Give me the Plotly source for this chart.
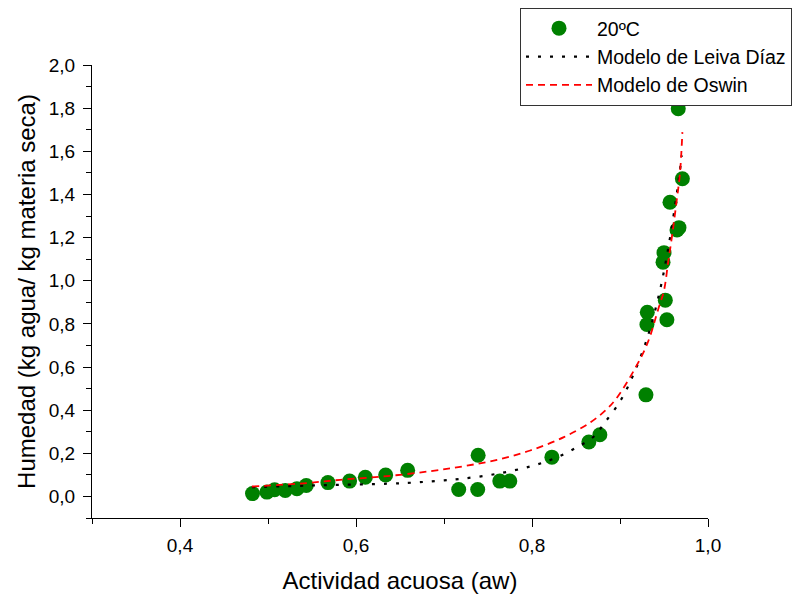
import plotly.graph_objects as go

# Experimental data (20 ºC)
aw_exp = [0.4824, 0.4988, 0.5075, 0.5196, 0.5329, 0.5435, 0.5681, 0.5927, 0.6106,
          0.6337, 0.6587, 0.7167, 0.7383, 0.7388, 0.7634, 0.7748, 0.8226, 0.8646,
          0.8771, 0.9295, 0.9306, 0.9310, 0.9489, 0.9500, 0.9515, 0.9533, 0.9568,
          0.9648, 0.9670, 0.9709, 0.9662]
hum_exp = [0.013, 0.020, 0.031, 0.028, 0.036, 0.051, 0.064, 0.071, 0.089,
           0.099, 0.121, 0.032, 0.032, 0.191, 0.071, 0.071, 0.182, 0.252,
           0.286, 0.471, 0.797, 0.854, 1.086, 1.130, 0.910, 0.819, 1.364,
           1.235, 1.246, 1.473, 1.797]

# Modelo de Leiva Díaz
aw_leiva = [0.4817, 0.5442, 0.5821, 0.6353, 0.6650, 0.6930, 0.7224, 0.7604, 0.7980,
            0.8248, 0.8514, 0.8703, 0.8817, 0.9007, 0.9140, 0.9254, 0.9348, 0.9454,
            0.9519, 0.9576, 0.9640, 0.9681, 0.9701]
hum_leiva = [0.043, 0.050, 0.054, 0.059, 0.064, 0.072, 0.083, 0.105, 0.139,
             0.175, 0.229, 0.278, 0.337, 0.445, 0.553, 0.669, 0.785, 0.955,
             1.086, 1.218, 1.388, 1.511, 1.581]

# Modelo de Oswin
aw_oswin = [0.4817, 0.5442, 0.5821, 0.6353, 0.6845, 0.7224, 0.7603, 0.7980, 0.8362,
            0.8666, 0.8856, 0.8969, 0.9158, 0.9310, 0.9442, 0.9500, 0.9545, 0.9595,
            0.9644, 0.9681, 0.9709]
hum_oswin = [0.046, 0.062, 0.077, 0.094, 0.117, 0.140, 0.170, 0.213, 0.275,
             0.344, 0.407, 0.460, 0.584, 0.708, 0.878, 0.955, 1.079, 1.218,
             1.372, 1.496, 1.689]

FONT = "Liberation Sans, Arial, sans-serif"

fig = go.Figure()
fig.add_trace(go.Scatter(x=aw_exp, y=hum_exp, mode="markers", name="20ºC",
                         marker=dict(color="#008000", size=15, line=dict(width=0))))
fig.add_trace(go.Scatter(x=aw_leiva, y=hum_leiva, mode="lines", name="Modelo de Leiva Díaz",
                         line=dict(color="black", width=2.2, dash="3px,9px", shape="spline")))
fig.add_trace(go.Scatter(x=aw_oswin, y=hum_oswin, mode="lines", name="Modelo de Oswin",
                         line=dict(color="#ff0000", width=1.8, dash="7px,5px", shape="spline")))

fig.update_layout(
    width=811, height=597,
    margin=dict(l=92, r=103, t=65, b=79, autoexpand=False),
    paper_bgcolor="white", plot_bgcolor="white",
    separators=",.",
    font=dict(family=FONT, color="black", size=19),
    legend=dict(x=(520 - 92) / 616, y=(518 - 8) / 453, xanchor="left", yanchor="top",
                bordercolor="#333333", borderwidth=1, bgcolor="white",
                font=dict(family=FONT, size=19.5, color="black"),
                itemwidth=66, tracegroupgap=0),
    showlegend=True,
)

fig.update_xaxes(
    range=[0.3, 1.0], showgrid=False, zeroline=False,
    showline=True, linecolor="black", linewidth=1.3,
    ticks="outside", ticklen=8, tickwidth=1.3, tickcolor="black",
    tick0=0.4, dtick=0.2, tickformat=".1f",
    tickfont=dict(family=FONT, size=19),
    ticklabelstandoff=2,
    minor=dict(ticks="outside", ticklen=5, tickwidth=1.3, tickcolor="black",
               tick0=0.3, dtick=0.1, showgrid=False),
    title=dict(text="Actividad acuosa (aw)", font=dict(family=FONT, size=24), standoff=17),
)
fig.update_yaxes(
    range=[-0.1, 2.0], showgrid=False, zeroline=False,
    showline=True, linecolor="black", linewidth=1.3,
    ticks="outside", ticklen=8, tickwidth=1.3, tickcolor="black",
    tick0=0, dtick=0.2, tickformat=".1f",
    tickfont=dict(family=FONT, size=19),
    ticklabelstandoff=4,
    minor=dict(ticks="outside", ticklen=5, tickwidth=1.3, tickcolor="black",
               tick0=-0.1, dtick=0.1, showgrid=False),
    title=dict(text="Humedad (kg agua/ kg materia seca)", font=dict(family=FONT, size=24), standoff=6),
)

fig.write_html("out.html")
